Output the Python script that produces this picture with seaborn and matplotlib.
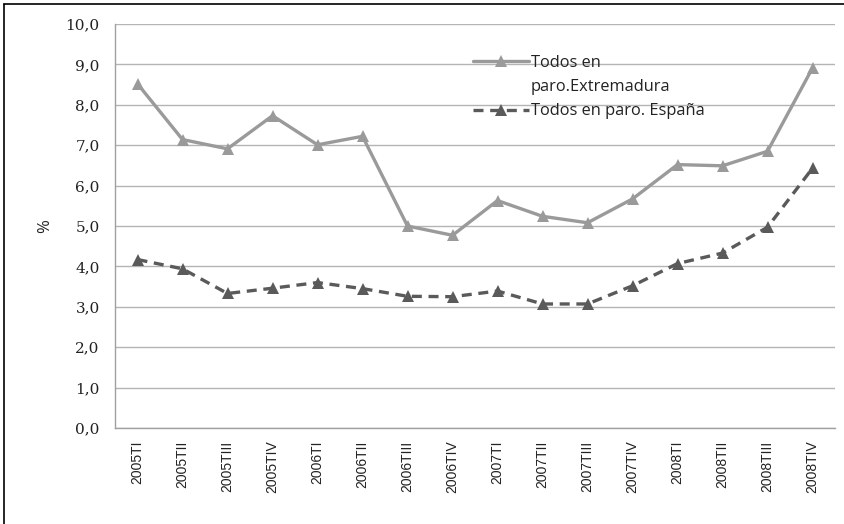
import matplotlib
matplotlib.use("Agg")
import matplotlib.pyplot as plt
import seaborn as sns
import pandas as pd
from matplotlib.lines import Line2D

periods = ["2005TI", "2005TII", "2005TIII", "2005TIV",
           "2006TI", "2006TII", "2006TIII", "2006TIV",
           "2007TI", "2007TII", "2007TIII", "2007TIV",
           "2008TI", "2008TII", "2008TIII", "2008TIV"]
extremadura = [8.52, 7.14, 6.91, 7.73, 7.01, 7.22, 5.00, 4.77,
               5.63, 5.24, 5.08, 5.67, 6.52, 6.49, 6.85, 8.91]
espana = [4.17, 3.94, 3.33, 3.46, 3.60, 3.45, 3.26, 3.25,
          3.39, 3.07, 3.07, 3.52, 4.07, 4.33, 4.97, 6.43]
label_ext_1 = "Todos en"
label_ext_2 = "paro.Extremadura"
label_esp = "Todos en paro. España"
yticks = [0, 1, 2, 3, 4, 5, 6, 7, 8, 9, 10]

sns.set_theme(style="white")
plt.rcParams['font.family'] = ['Open Sans', 'DejaVu Sans']

df = pd.DataFrame({"periodo": periods, "ext": extremadura, "esp": espana})

fig = plt.figure(figsize=(8.44, 5.24), dpi=100)
ax = fig.add_axes([115/844, 1-428/524, (835-115)/844, (428-24)/524])

sns.lineplot(data=df, x="periodo", y="ext", ax=ax, color="#9a9a9a", lw=2.4,
             marker="^", markersize=9, markeredgewidth=0, label=label_ext_1, sort=False)
sns.lineplot(data=df, x="periodo", y="esp", ax=ax, color="#5a5a5a", lw=2.4,
             linestyle=(0, (3, 2)), marker="^", markersize=9, markeredgewidth=0,
             label=label_esp, sort=False)

ax.set_xlim(-0.5, len(periods) - 0.5)
ax.set_ylim(0, 10)
ax.set_yticks(yticks)
ax.set_yticklabels([f"{v:.1f}".replace(".", ",") for v in yticks],
                   family=["DejaVu Serif"], fontsize=11, color="#222222")
ax.yaxis.grid(True, color="#b4b4b4", lw=1)
ax.xaxis.grid(False)
ax.tick_params(axis="both", length=0)
ax.tick_params(axis="y", pad=11)
ax.tick_params(axis="x", pad=9)
for lab in ax.get_xticklabels():
    lab.set_rotation(90)
    lab.set_fontsize(10)
    lab.set_family(["Liberation Sans"])
    lab.set_color("#222222")
ax.set_xlabel("")
ax.set_ylabel("%", fontsize=12, color="#222222", labelpad=9)
for s in ["top", "right"]:
    ax.spines[s].set_visible(False)
for s in ["left", "bottom"]:
    ax.spines[s].set_color("#a0a0a0")
    ax.spines[s].set_linewidth(1)

h, l = ax.get_legend_handles_labels()
blank = Line2D([], [], color="none")
leg = ax.legend([h[0], blank, h[1]], [label_ext_1, label_ext_2, label_esp],
                loc="upper left", bbox_to_anchor=((473-115)/720, (428-55)/404),
                frameon=False, fontsize=11.8, handlelength=3.4, handletextpad=0.12,
                labelspacing=0.5, borderaxespad=0, borderpad=0)
for t in leg.get_texts():
    t.set_color("#222222")

fig.add_artist(Line2D([4/844, 1.0], [1-4/524, 1-4/524], transform=fig.transFigure,
                      color="black", lw=1.2))
fig.add_artist(Line2D([4/844, 4/844], [0, 1-4/524], transform=fig.transFigure,
                      color="black", lw=1.2))

fig.savefig("out.png", dpi=100)
